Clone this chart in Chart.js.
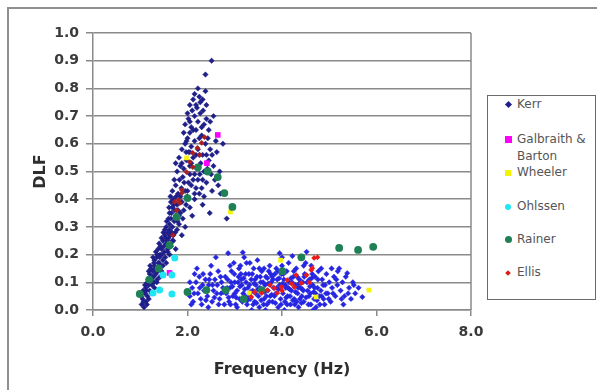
<!DOCTYPE html>
<html><head><meta charset="utf-8">
<script src="https://cdn.jsdelivr.net/npm/chart.js@4.4.1/dist/chart.umd.min.js"></script>
<style>
html,body{margin:0;padding:0;background:#fff;}
#wrap{position:relative;width:597px;height:390px;overflow:hidden;background:#fff;}
#frame{position:absolute;left:7px;top:7px;width:640px;height:440px;border:2px solid #8f8f8f;box-sizing:border-box;}
#c{position:absolute;left:0;top:0;}
#legend{position:absolute;left:487px;top:95px;width:109px;height:205px;border:1.5px solid #6a6a6a;box-sizing:border-box;font:12px "DejaVu Sans",sans-serif;color:#555;background:#fff;}
.mk{position:absolute;}
.tx{position:absolute;left:29px;line-height:17px;white-space:nowrap;}
</style>
</head><body>
<div id="wrap">
<div id="frame"></div>
<canvas id="c" width="597" height="390"></canvas>
<div id="legend"></div>
</div>
<script>
// ---- data ----
const xTickValues = [0, 2, 4, 6, 8];
const yTickValues = [0, 0.1, 0.2, 0.3, 0.4, 0.5, 0.6, 0.7, 0.8, 0.9, 1.0];

const kerr = [
 [1.03,0.02],[1.08,0.01],[1.12,0.03],[1.05,0.04],[1.15,0.05],[1.10,0.06],[1.02,0.05],[1.18,0.04],[1.07,0.03],[1.13,0.07],
 [1.12,0.08],[1.20,0.07],[1.25,0.09],[1.15,0.10],[1.30,0.08],[1.22,0.11],[1.18,0.09],[1.28,0.12],[1.35,0.10],[1.10,0.09],[1.24,0.06],
 [1.20,0.13],[1.27,0.14],[1.33,0.13],[1.38,0.15],[1.42,0.12],[1.30,0.16],[1.45,0.14],[1.25,0.12],[1.36,0.11],[1.48,0.16],[1.18,0.14],[1.40,0.17],
 [1.30,0.18],[1.35,0.19],[1.42,0.20],[1.48,0.18],[1.53,0.19],[1.38,0.17],[1.58,0.21],[1.45,0.22],[1.33,0.21],[1.50,0.23],[1.62,0.20],[1.27,0.19],[1.55,0.17],[1.44,0.16],
 [1.40,0.24],[1.48,0.25],[1.55,0.24],[1.60,0.26],[1.65,0.23],[1.52,0.27],[1.70,0.25],[1.58,0.22],[1.45,0.26],[1.67,0.28],[1.75,0.22],[1.62,0.29],[1.38,0.22],
 [1.55,0.30],[1.62,0.31],[1.68,0.30],[1.72,0.32],[1.78,0.29],[1.58,0.28],[1.65,0.33],[1.82,0.31],[1.75,0.34],[1.52,0.29],[1.88,0.27],[1.95,0.30],[1.70,0.27],[1.85,0.35],
 [1.62,0.35],[1.68,0.37],[1.73,0.36],[1.78,0.38],[1.82,0.34],[1.88,0.39],[1.92,0.36],[1.70,0.40],[1.65,0.39],[1.97,0.38],[2.05,0.37],[2.15,0.40],[1.85,0.41],[2.32,0.38],[2.47,0.35],[2.83,0.33],[2.10,0.34],[1.60,0.33],
 [1.68,0.43],[1.75,0.45],[1.80,0.42],[1.87,0.44],[1.93,0.46],[2.00,0.43],[2.08,0.45],[2.15,0.42],[2.22,0.47],[2.30,0.44],[2.40,0.46],[2.52,0.43],[2.65,0.45],[1.72,0.47],[1.90,0.48],[2.05,0.49],[2.35,0.41],[2.70,0.42],[1.64,0.41],
 [1.78,0.50],[1.85,0.52],[1.92,0.51],[1.98,0.54],[2.05,0.52],[2.12,0.55],[2.20,0.51],[2.28,0.53],[2.35,0.50],[2.45,0.54],[2.55,0.52],[2.68,0.50],[1.82,0.55],[2.02,0.57],[2.15,0.49],[2.40,0.56],[1.75,0.53],
 [1.88,0.58],[1.95,0.60],[2.00,0.62],[2.08,0.59],[2.15,0.61],[2.22,0.58],[2.30,0.63],[2.38,0.60],[2.48,0.58],[2.60,0.61],[2.75,0.60],[1.92,0.64],[2.12,0.65],[2.25,0.56],[2.05,0.57],
 [1.95,0.67],[2.02,0.69],[2.08,0.66],[2.15,0.70],[2.22,0.68],[2.30,0.66],[2.40,0.69],[2.10,0.72],[2.18,0.65],[2.45,0.65],[2.55,0.70],[2.00,0.71],
 [2.05,0.74],[2.12,0.76],[2.20,0.73],[2.27,0.75],[2.32,0.76],[2.15,0.78],[2.38,0.79],[2.25,0.77],
 [2.38,0.85],[2.51,0.90],
 [1.06,0.07],[1.14,0.02],[1.17,0.11],[1.23,0.15],[1.29,0.10],[1.32,0.15],[1.37,0.14],[1.41,0.19],[1.46,0.20],[1.51,0.21],
 [1.57,0.25],[1.63,0.27],[1.49,0.28],[1.56,0.32],[1.61,0.37],[1.66,0.35],[1.71,0.38],[1.76,0.41],[1.80,0.36],[1.90,0.33],
 [1.99,0.41],[2.02,0.46],[2.12,0.47],[2.18,0.44],[2.25,0.42],[2.26,0.49],[2.32,0.47],[2.42,0.51],[2.50,0.49],[2.58,0.47],
 [1.83,0.47],[1.95,0.43],[1.88,0.53],[1.97,0.57],[2.08,0.53],[2.18,0.56],[2.32,0.56],[2.52,0.56],[2.62,0.57],[2.43,0.62],
 [2.25,0.62],[2.05,0.64],[1.98,0.61],[2.35,0.67],[2.27,0.71],[2.48,0.68],[2.05,0.68],[2.18,0.74],[2.33,0.72],[2.40,0.74],
 [2.22,0.80],[1.79,0.32],[1.74,0.28],[1.68,0.25],[1.60,0.23],[1.54,0.26],[1.43,0.23],[1.36,0.20],[1.29,0.17],[1.21,0.16],
 [2.05,0.05],[2.10,0.08],[2.12,0.03],[2.18,0.10],[2.22,0.06],[2.25,0.12],[2.28,0.04],[2.32,0.09],[2.35,0.07],[2.38,0.11],[2.15,0.13],[2.08,0.02],[2.30,0.02],[2.20,0.15],
 [2.42,0.05],[2.45,0.09],[2.48,0.13],[2.52,0.03],[2.55,0.07],[2.58,0.11],[2.62,0.06],[2.65,0.14],[2.68,0.04],[2.72,0.10],[2.75,0.08],[2.78,0.02],[2.60,0.19],[2.50,0.16],[2.70,0.12],[2.44,0.01],[2.63,0.09],
 [2.82,0.06],[2.85,0.11],[2.88,0.03],[2.90,0.08],[2.93,0.14],[2.96,0.05],[3.00,0.10],[3.02,0.02],[3.05,0.07],[3.08,0.12],[3.10,0.04],[3.12,0.16],[3.15,0.09],[3.18,0.06],[2.86,0.205],[3.17,0.208],[2.98,0.17],[3.05,0.01],[2.92,0.10],[3.13,0.13],
 [3.22,0.05],[3.24,0.10],[3.26,0.02],[3.28,0.08],[3.30,0.13],[3.33,0.04],[3.35,0.11],[3.38,0.07],[3.40,0.15],[3.42,0.03],[3.45,0.09],[3.47,0.12],[3.50,0.05],[3.52,0.01],[3.55,0.10],[3.57,0.14],[3.58,0.07],[3.25,0.17],[3.48,0.18],[3.36,0.00],[3.44,0.06],[3.31,0.09],
 [3.62,0.04],[3.64,0.09],[3.66,0.12],[3.68,0.02],[3.70,0.07],[3.72,0.14],[3.75,0.05],[3.77,0.10],[3.80,0.03],[3.82,0.08],[3.85,0.13],[3.87,0.06],[3.90,0.11],[3.92,0.01],[3.95,0.09],[3.97,0.04],[3.74,0.16],[3.95,0.205],[3.88,0.15],[3.65,0.00],[3.79,0.12],[3.99,0.13],
 [4.02,0.06],[4.04,0.11],[4.06,0.03],[4.08,0.08],[4.10,0.14],[4.12,0.05],[4.15,0.10],[4.18,0.02],[4.20,0.07],[4.22,0.195],[4.24,0.12],[4.26,0.04],[4.28,0.09],[4.30,0.15],[4.33,0.06],[4.35,0.01],[4.37,0.11],[4.39,0.08],[4.14,0.17],[4.05,0.00],[4.31,0.03],
 [4.42,0.05],[4.44,0.10],[4.46,0.03],[4.48,0.13],[4.52,0.21],[4.54,0.07],[4.56,0.02],[4.58,0.11],[4.60,0.06],[4.62,0.16],[4.65,0.09],[4.68,0.04],[4.70,0.12],[4.72,0.01],[4.75,0.08],[4.77,0.14],[4.50,0.17],[4.66,0.00],[4.79,0.05],
 [4.82,0.07],[4.85,0.11],[4.88,0.04],[4.91,0.09],[4.94,0.13],[4.97,0.06],[5.00,0.10],[5.03,0.03],[5.06,0.08],[5.10,0.12],[5.13,0.05],[5.17,0.09],[4.90,0.02],[5.05,0.15],[5.18,0.14],
 [5.21,0.15],[5.24,0.07],[5.28,0.10],[5.32,0.05],[5.35,0.12],[5.38,0.133],[5.42,0.08],[5.46,0.04],[5.50,0.10],[5.55,0.06],[5.62,0.08],[5.70,0.047],[5.30,0.02],
 [3.03,0.045],[3.11,0.085],[3.19,0.115],[3.27,0.035],[3.34,0.065],[3.41,0.095],[3.49,0.075],[3.56,0.035],[3.63,0.065],[3.71,0.095],[3.78,0.055],[3.86,0.025],
 [3.93,0.075],[4.01,0.095],[4.09,0.045],[4.16,0.075],[4.23,0.035],[4.29,0.065],[4.36,0.095],[4.43,0.075],[4.51,0.045],[4.59,0.085],[4.67,0.065],[4.74,0.035],
 [2.95,0.085],[3.21,0.075],[3.46,0.025],[3.69,0.115],[3.94,0.115],[4.19,0.115],[4.41,0.025],[4.63,0.115],[2.87,0.045],[2.76,0.065],[2.57,0.045],[2.39,0.035],
 [2.05,0.10],[2.14,0.06],[2.26,0.08],[2.33,0.13],[2.46,0.11],[2.53,0.09],[2.66,0.02],[2.71,0.06],[2.80,0.12],[2.84,0.08],
 [2.91,0.02],[2.99,0.13],[3.07,0.10],[3.09,0.15],[3.16,0.03],[3.23,0.13],[3.29,0.05],[3.37,0.13],[3.39,0.02],[3.43,0.11],
 [3.53,0.08],[3.54,0.12],[3.60,0.10],[3.61,0.02],[3.67,0.05],[3.73,0.03],[3.76,0.13],[3.81,0.11],[3.84,0.05],[3.89,0.08],
 [3.91,0.14],[3.98,0.02],[4.03,0.13],[4.07,0.09],[4.11,0.02],[4.13,0.08],[4.17,0.05],[4.21,0.10],[4.25,0.14],[4.27,0.02],
 [4.32,0.12],[4.34,0.08],[4.38,0.04],[4.45,0.07],[4.47,0.12],[4.53,0.10],[4.57,0.05],[4.61,0.02],[4.64,0.13],[4.69,0.08],
 [4.71,0.06],[4.76,0.11],[4.80,0.02],[4.84,0.05],[4.87,0.09],[4.93,0.06],[4.99,0.04],[5.08,0.06],[5.15,0.11],[5.26,0.04],
 [5.40,0.06],[5.52,0.09],[3.00,0.06],[3.14,0.11],[3.32,0.17],[3.62,0.15],[3.52,0.15],[4.00,0.16],[4.46,0.16],[2.90,0.16],
 [3.20,0.19],[4.00,0.19],[4.83,0.15]
];
const galbraith = [[2.64,0.632],[2.41,0.53],[1.62,0.134]];
const wheeler = [[2.91,0.354],[1.98,0.549],[1.62,0.238],[3.97,0.18],[5.84,0.072],[3.31,0.061],[4.72,0.047]];
const ohlssen = [[1.73,0.188],[1.67,0.126],[1.48,0.126],[1.41,0.072],[1.67,0.058],[1.27,0.061]];
const rainer = [[5.21,0.224],[5.61,0.217],[5.93,0.228],[4.41,0.19],[4.01,0.14],[2.40,0.072],[2.81,0.072],[3.19,0.04],[3.57,0.072],
 [2.95,0.372],[2.78,0.422],[2.64,0.48],[2.43,0.50],[2.22,0.515],[2.00,0.404],[1.77,0.336],[1.62,0.234],[1.39,0.15],[1.19,0.11],[0.99,0.058],[2.00,0.065]];
const ellis = [[2.36,0.624],[2.30,0.603],[2.21,0.585],[2.11,0.567],[2.26,0.56],[2.05,0.534],[2.11,0.516],[1.98,0.498],[1.88,0.433],[1.84,0.386],
 [1.81,0.397],[1.77,0.36],[1.69,0.27],[1.73,0.39],[1.88,0.422],
 [4.68,0.188],[4.62,0.144],[4.52,0.126],[4.30,0.126],[4.11,0.108],[3.84,0.079],[3.69,0.072],[3.57,0.061],[3.42,0.065],[3.35,0.047],
 [3.99,0.083],[4.41,0.097],[3.90,0.061],[4.26,0.083],[4.58,0.10],[4.75,0.19],[4.64,0.151],[4.00,0.07],[3.75,0.09],[4.20,0.095]];

const seriesNames = ['Kerr', 'Galbraith & Barton', 'Wheeler', 'Ohlssen', 'Rainer', 'Ellis'];

// ---- chart ----
const toPts = a => a.map(p => ({x: p[0], y: p[1]}));
const inBand = p => p && (p.x < 1.95 || p.y > 0.22);
const kerrColor = ctx => inBand(ctx.raw) ? '#1f1f8a' : '#2626e2';
const ellisColor = ctx => inBand(ctx.raw) ? '#a82020' : '#e81c1c';

const datasets = [
  {label: seriesNames[0], data: toPts(kerr), order: 10, pointStyle: 'rectRot', pointRadius: 2.7,
   backgroundColor: kerrColor, borderColor: kerrColor, borderWidth: 0.5},
  {label: seriesNames[1], data: toPts(galbraith), order: 5, pointStyle: 'rect', pointRadius: 4,
   backgroundColor: '#ff00ff', borderColor: '#ff00ff', borderWidth: 0},
  {label: seriesNames[2], data: toPts(wheeler), order: 4, pointStyle: 'rect', pointRadius: 3.3,
   backgroundColor: '#f4f400', borderColor: '#f4f400', borderWidth: 0},
  {label: seriesNames[3], data: toPts(ohlssen), order: 3, pointStyle: 'circle', pointRadius: 3.5,
   backgroundColor: '#1ee6f2', borderColor: '#1ee6f2', borderWidth: 0},
  {label: seriesNames[4], data: toPts(rainer), order: 2, pointStyle: 'circle', pointRadius: 3.9,
   backgroundColor: '#1f8055', borderColor: '#1f8055', borderWidth: 0},
  {label: seriesNames[5], data: toPts(ellis), order: 1, pointStyle: 'rectRot', pointRadius: 2.9,
   backgroundColor: ellisColor, borderColor: ellisColor, borderWidth: 0}
];

const rightBorder = {
  id: 'rightBorder',
  beforeDatasetsDraw(chart) {
    const {ctx, chartArea: a} = chart;
    ctx.save();
    ctx.strokeStyle = '#8a8a8a';
    ctx.lineWidth = 1.5;
    ctx.beginPath();
    ctx.moveTo(a.right, a.top);
    ctx.lineTo(a.right, a.bottom);
    ctx.stroke();
    ctx.restore();
  }
};

const tickFont = {family: '"DejaVu Sans", sans-serif', size: 14, weight: 'bold'};
const gridCol = '#8a8a8a';

const chart = new Chart(document.getElementById('c'), {
  type: 'scatter',
  data: {datasets},
  plugins: [rightBorder],
  options: {
    responsive: false,
    animation: false,
    devicePixelRatio: 1,
    layout: {padding: {left: 28, right: 126, top: 33, bottom: 0}},
    plugins: {legend: {display: false}, tooltip: {enabled: false}},
    scales: {
      x: {
        type: 'linear', min: 0, max: 8,
        afterBuildTicks: s => { s.ticks = xTickValues.map(v => ({value: v})); },
        afterFit: s => { s.height = 80; },
        ticks: {font: tickFont, color: '#3a3a3a', padding: 8, maxRotation: 0,
                callback: v => Number(v).toFixed(1)},
        grid: {drawOnChartArea: false, drawTicks: true, tickLength: 6, color: gridCol, lineWidth: 1.5},
        border: {display: true, color: gridCol, width: 1.5},
        title: {display: true, text: 'Frequency (Hz)', color: '#2e2e2e',
                font: {family: '"DejaVu Sans", sans-serif', size: 16, weight: 'bold'},
                padding: {top: 4, bottom: 11}}
      },
      y: {
        type: 'linear', min: 0, max: 1,
        afterBuildTicks: s => { s.ticks = yTickValues.map(v => ({value: v})); },
        afterFit: s => { s.width = 65; },
        ticks: {font: tickFont, color: '#3a3a3a', padding: 7,
                callback: v => Number(v).toFixed(1)},
        grid: {drawOnChartArea: true, drawTicks: true, tickLength: 7, color: gridCol, lineWidth: 1.5},
        border: {display: true, color: gridCol, width: 1.5},
        title: {display: true, text: 'DLF', color: '#2e2e2e',
                font: {family: '"DejaVu Sans", sans-serif', size: 16, weight: 'bold'},
                padding: {top: 3, bottom: 4}}
      }
    }
  }
});

// ---- HTML legend built from the datasets ----
const legendTops = [0, 35, 68, 102, 135, 168];
const markerCss = [
  'width:5px;height:5px;left:18px;background:#1f1f8a;transform:rotate(45deg);',
  'width:7px;height:7px;left:17px;background:#ff00ff;',
  'width:6px;height:6px;left:17px;background:#f4f400;',
  'width:6px;height:6px;left:17px;background:#1ee6f2;border-radius:50%;',
  'width:7px;height:7px;left:17px;background:#1f8055;border-radius:50%;',
  'width:4px;height:4px;left:18px;background:#d81c1c;transform:rotate(45deg);'
];
const markerDy = [6, 5, 6, 6, 5, 7];
const lg = document.getElementById('legend');
chart.data.datasets.forEach((ds, i) => {
  const m = document.createElement('div');
  m.className = 'mk';
  m.style.cssText = markerCss[i] + 'top:' + (legendTops[i] + markerDy[i]) + 'px;';
  lg.appendChild(m);
  const t = document.createElement('div');
  t.className = 'tx';
  t.style.top = legendTops[i] + 'px';
  t.innerHTML = ds.label === 'Galbraith & Barton' ? 'Galbraith &amp;<br>Barton' : ds.label;
  lg.appendChild(t);
});
</script>
</body></html>
